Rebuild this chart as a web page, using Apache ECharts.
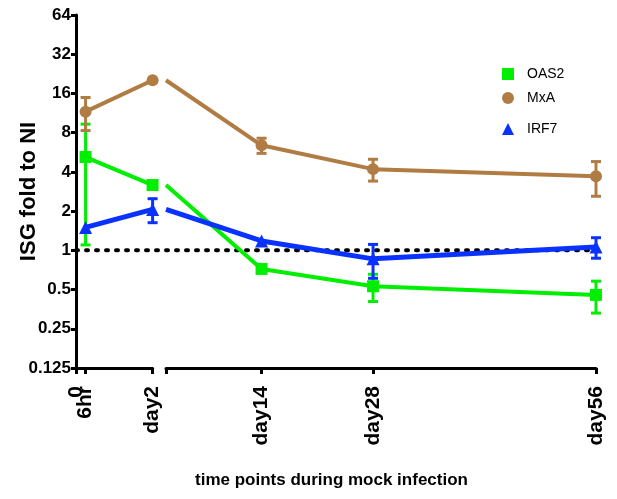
<!DOCTYPE html>
<html>
<head>
<meta charset="utf-8">
<script src="https://cdn.jsdelivr.net/npm/echarts@6/dist/echarts.min.js"></script>
<style>
	html, body { margin: 0; padding: 0; background: #fff; }
	#chart { width: 617px; height: 499px; }
</style>
</head>
<body>
<div id="chart"></div>
<script>
// sampling time points (days) and their tick labels
const tickValues = [0, 0.25, 2, 14, 28, 56]
const tickLabels = ['0', '6hr', 'day2', 'day14', 'day28', 'day56']
const days = [0.25, 2, 14, 28, 56]

// ISG fold to NI, mean and error
const oas2 = [5.2, 3.17, 0.72, 0.53, 0.455]
const oas2Err = [4.1, 0, 0, 0.125, 0.125]
const mxa = [11.6, 20.2, 6.4, 4.2, 3.7]
const mxaErr = [3.3, 0, 0.85, 0.8, 1.1]
const irf7 = [1.5, 2.06, 1.18, 0.86, 1.06]
const irf7Err = [0, 0.43, 0, 0.25, 0.19]

const yTicks = [0.125, 0.25, 0.5, 1, 2, 4, 8, 16, 32, 64]
const refValue = 1

const genes = [
	{ name: 'OAS2', vals: oas2, err: oas2Err, color: '#00ee00', symbol: 'rect', size: 12, width: 4 },
	{ name: 'MxA', vals: mxa, err: mxaErr, color: '#b07c43', symbol: 'circle', size: 12, width: 4 },
	{ name: 'IRF7', vals: irf7, err: irf7Err, color: '#0a32ff', symbol: 'triangle', size: 13, width: 5 }
]

const labelOf = v => tickLabels[tickValues.indexOf(v)]
const font = 'Arial, "Liberation Sans", sans-serif'

function xAxisFor (gridIndex, min, max, ticks, labels) {
	return {
		type: 'value',
		gridIndex: gridIndex,
		position: 'bottom',
		min: min,
		max: max,
		axisLine: { show: ticks.length > 0, lineStyle: { color: '#000', width: 3 } },
		axisTick: { show: ticks.length > 0, length: 6, lineStyle: { color: '#000', width: 3 }, customValues: ticks },
		axisLabel: {
			rotate: 90,
			fontFamily: font,
			fontWeight: 'bold',
			fontSize: 21,
			color: '#000',
			margin: 18,
			showMinLabel: true,
			showMaxLabel: true,
			hideOverlap: false,
			customValues: labels,
			formatter: v => labelOf(v)
		},
		splitLine: { show: false }
	}
}

function yAxisFor (gridIndex, show) {
	return {
		type: 'log',
		logBase: 2,
		gridIndex: gridIndex,
		min: 0.125,
		max: 64,
		show: show,
		name: show ? 'ISG fold to NI' : '',
		nameLocation: 'middle',
		nameGap: 36,
		nameMoveOverlap: false,
		nameTextStyle: { fontFamily: font, fontWeight: 'bold', fontSize: 22, color: '#000' },
		axisLine: { show: true, lineStyle: { color: '#000', width: 3 } },
		axisTick: { show: true, length: 5, lineStyle: { color: '#000', width: 3 }, customValues: yTicks },
		axisLabel: {
			fontFamily: font,
			fontWeight: 'bold',
			fontSize: 17,
			color: '#000',
			margin: 5,
			customValues: yTicks,
			formatter: v => String(v)
		},
		splitLine: { show: false }
	}
}

// error bars drawn with the axes' own coordinates
function errorRender (color) {
	return function (params, api) {
		let x = api.value(0)
		let y = api.value(1)
		let e = api.value(2)
		let top = api.coord([x, y + e])
		let bot = api.coord([x, y - e])
		let w = 5
		let style = { stroke: color, lineWidth: 3, fill: null }
		return {
			type: 'group',
			children: [
				{ type: 'line', shape: { x1: top[0], y1: top[1], x2: bot[0], y2: bot[1] }, style: style },
				{ type: 'line', shape: { x1: top[0] - w, y1: top[1], x2: top[0] + w, y2: top[1] }, style: style },
				{ type: 'line', shape: { x1: bot[0] - w, y1: bot[1], x2: bot[0] + w, y2: bot[1] }, style: style }
			]
		}
	}
}

let series = []
genes.forEach((g, k) => {
	// first segment: 6hr and day2
	series.push({
		name: g.name,
		type: 'line',
		xAxisIndex: 0,
		yAxisIndex: 0,
		data: days.filter(d => d <= 2).map(d => [d, g.vals[days.indexOf(d)]]),
		symbol: g.symbol,
		symbolSize: g.size,
		itemStyle: { color: g.color },
		lineStyle: { color: g.color, width: g.width },
		z: 3 + k,
		animation: false
	})
	// second segment: day2 onwards, no marker repeated at day2
	series.push({
		name: g.name,
		type: 'line',
		xAxisIndex: 1,
		yAxisIndex: 1,
		data: days.filter(d => d >= 2).map(d => {
			let item = { value: [d, g.vals[days.indexOf(d)]] }
			if (d === 2) item.symbol = 'none'
			return item
		}),
		symbol: g.symbol,
		symbolSize: g.size,
		itemStyle: { color: g.color },
		lineStyle: { color: g.color, width: g.width },
		z: 3 + k,
		animation: false
	})
	let errs = days.map((d, i) => [d, g.vals[i], g.err[i]]).filter(r => r[2] > 0)
	series.push({
		type: 'custom',
		xAxisIndex: 0,
		yAxisIndex: 0,
		data: errs.filter(r => r[0] <= 2),
		renderItem: errorRender(g.color),
		z: 3 + k,
		animation: false
	})
	series.push({
		type: 'custom',
		xAxisIndex: 1,
		yAxisIndex: 1,
		data: errs.filter(r => r[0] > 2),
		renderItem: errorRender(g.color),
		z: 3 + k,
		animation: false
	})
})

// dotted reference line at fold = 1, across both segments
series.push({
	type: 'line',
	xAxisIndex: 2,
	yAxisIndex: 2,
	data: [[0, refValue], [1, refValue]],
	symbol: 'none',
	lineStyle: { color: '#000', width: 4, type: [2, 8], cap: 'round' },
	z: 2,
	animation: false
})

const legendPos = [62, 86, 117]
let option = {
	backgroundColor: '#fff',
	animation: false,
	title: {
		text: 'time points during mock infection',
		left: 190,
		top: 467,
		textStyle: { fontFamily: font, fontWeight: 'bold', fontSize: 17, color: '#000' }
	},
	legend: genes.map((g, k) => ({
		left: 497,
		top: legendPos[k],
		orient: 'vertical',
		itemWidth: 12,
		itemHeight: 12,
		data: [{ name: g.name, icon: g.symbol }],
		textStyle: { fontFamily: font, fontSize: 14, color: '#000', padding: [0, 0, 0, 8] },
		selectedMode: false
	})),
	grid: [
		{ left: 76, top: 15, width: 76.6, height: 353 },
		{ left: 166, top: 15, width: 430, height: 353 },
		{ left: 76, top: 15, width: 520, height: 353 }
	],
	xAxis: [
		xAxisFor(0, 0, 2, [0, 0.25, 2], [0.25, 2]),
		xAxisFor(1, 2, 56, [2, 14, 28, 56], [14, 28, 56]),
		{ type: 'value', gridIndex: 2, min: 0, max: 1, show: false },
		// the "0" label sits on its own axis so it is not dropped next to "6hr"
		xAxisFor(0, 0, 2, [], [0])
	],
	yAxis: [
		yAxisFor(0, true),
		yAxisFor(1, false),
		{ type: 'log', logBase: 2, gridIndex: 2, min: 0.125, max: 64, show: false }
	],
	series: series
}

let chart = echarts.init(document.getElementById('chart'))
chart.setOption(option)
</script>
</body>
</html>
